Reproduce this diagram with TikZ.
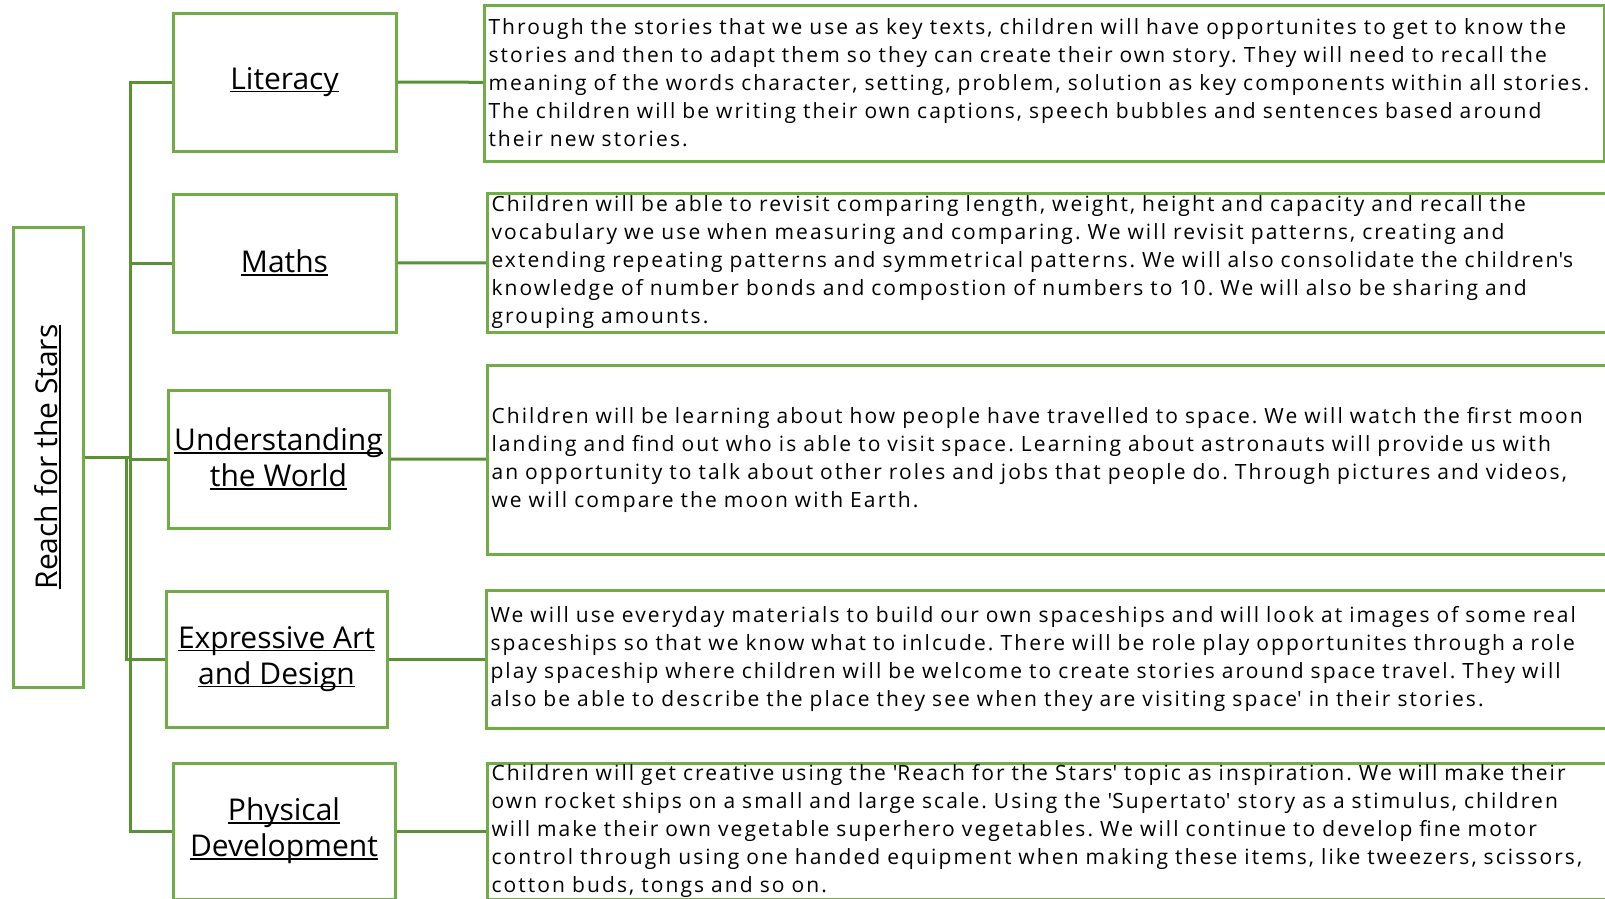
\documentclass[tikz,border=0pt]{standalone}
\usepackage{fontspec}
\setmainfont{Open Sans}
\newfontfamily\bodyFamily{Open Sans}[LetterSpace=10,WordSpace=1.25]
\usepackage{tikz}
\usetikzlibrary{positioning}
\tikzstyle{page} = [x = 1pt, y = -1pt]
\definecolor{boxGreen}{RGB}{112,173,71}
\definecolor{lineGreen}{RGB}{88,146,52}
\newcommand{\headFont}{\fontsize{30}{36}\selectfont}
\newcommand{\bodyFont}{\bodyFamily\fontsize{21}{28}\selectfont\frenchspacing}
\newcommand{\headLine}[1]{\leavevmode\setbox0\hbox{#1}\rlap{\rule[-3pt]{\wd0}{1.6pt}}\box0}
\newcommand{\q}{\textquotesingle}
\tikzstyle{topicBox} = [draw=boxGreen, line width=3pt, minimum width=223pt, minimum height=138pt, inner sep=0pt, align=center, font=\headFont]
\tikzstyle{rootBox} = [draw=boxGreen, line width=3pt, minimum width=460pt, minimum height=70pt, inner sep=0pt, rotate=90, font=\headFont]
\tikzstyle{textBox} = [draw=boxGreen, line width=3pt, anchor=west, inner xsep=4pt, inner ysep=0pt, text width=1112pt, align=left, font=\bodyFont]
\tikzstyle{openTextBox} = [textBox, text width=1140pt]
\tikzstyle{branchLine} = [draw=lineGreen, line width=3pt]

\begin{document}
\begin{tikzpicture}[page]
\useasboundingbox (0,0) rectangle (1605,898);
% topic and subject boxes
\node [rootBox] (root) at (48,457) {\headLine{Reach for the Stars}};
\node [topicBox] (lit) at (284.5,82) {\headLine{Literacy}};
\node [topicBox] (maths) at (284.5,263) {\headLine{Maths}};
\node [topicBox, minimum width=221pt] (world) at (278.5,459) {\headLine{Understanding}\\\headLine{the World}};
\node [topicBox, minimum width=221pt, minimum height=136pt] (art) at (276.5,659) {\headLine{Expressive Art}\\\headLine{and Design}};
\node [topicBox, minimum width=222pt, minimum height=136pt] (pe) at (284,831) {\headLine{Physical}\\\headLine{Development}};
% text boxes (all but the first run past the right edge)
\node [textBox, minimum height=156pt] (litText) at (483,83) {Through the stories that we use as key texts, children will have opportunites to get to know the\\
stories and then to adapt them so they can create their own story. They will need to recall the\\
meaning of the words character, setting, problem, solution as key components within all stories.\\
The children will be writing their own captions, speech bubbles and sentences based around\\
their new stories.};
\node [openTextBox, minimum height=139pt] (mathsText) at (486,262.5) {Children will be able to revisit comparing length, weight, height and capacity and recall the\\
vocabulary we use when measuring and comparing. We will revisit patterns, creating and\\
extending repeating patterns and symmetrical patterns. We will also consolidate the children\q s\\
knowledge of number bonds and compostion of numbers to 10. We will also be sharing and\\
grouping amounts.};
\node [openTextBox, minimum height=189pt] (worldText) at (486,459.5) {Children will be learning about how people have travelled to space. We will watch the first moon\\
landing and find out who is able to visit space. Learning about astronauts will provide us with\\
an opportunity to talk about other roles and jobs that people do. Through pictures and videos,\\
we will compare the moon with Earth.};
\node [openTextBox, minimum height=138pt] (artText) at (485,659) {We will use everyday materials to build our own spaceships and will look at images of some real\\
spaceships so that we know what to inlcude. There will be role play opportunites through a role\\
play spaceship where children will be welcome to create stories around space travel. They will\\
also be able to describe the place they see when they are visiting space\q{} in their stories.};
\node [openTextBox, minimum height=136pt] (peText) at (486,831) {Children will get creative using the \q Reach for the Stars\q{} topic as inspiration. We will make their\\
own rocket ships on a small and large scale. Using the \q Supertato\q{} story as a stimulus, children\\
will make their own vegetable superhero vegetables. We will continue to develop fine motor\\
control through using one handed equipment when making these items, like tweezers, scissors,\\
cotton buds, tongs and so on.};
% branches
\draw [branchLine] (root.south) -- ++(46,0) coordinate (trunk);
\draw [branchLine] (root.south) -- ++(42,0) |- (art.west);
\foreach \subject in {lit,maths,world,art,pe} {
  \draw [branchLine] (\subject.west) -| (trunk);
}
\draw [branchLine] (lit) -- (litText);
\draw [branchLine] (maths) -- (mathsText);
\draw [branchLine] (world) -- (worldText);
\draw [branchLine] (art) -- (artText);
\draw [branchLine] (pe) -- (peText);
\end{tikzpicture}
\end{document}
